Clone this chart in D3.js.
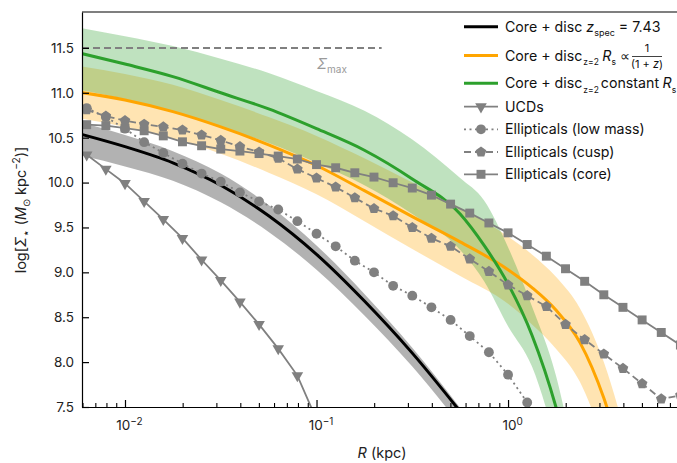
<!DOCTYPE html>
<html><head><meta charset="utf-8">
<script src="https://cdn.jsdelivr.net/npm/d3@7"></script>
<style>
body{margin:0;background:#fff}
svg{display:block;font-family:Inter,"Noto Sans",sans-serif}
text{white-space:pre}
</style>
</head><body>
<svg id="c" width="677" height="463"></svg>
<script>
// ---------- data (log10 R in kpc, log Sigma) ----------
const blackLogR = [-2.25,-2.0,-1.75,-1.5,-1.25,-1.0,-0.75,-0.5,-0.25];
const blackMid  = [10.55,10.40,10.22,9.97,9.63,9.20,8.68,8.10,7.45];
const blackHi   = [10.68,10.53,10.35,10.10,9.75,9.30,8.76,8.16,7.49];
const blackLo   = [10.31,10.18,10.02,9.78,9.45,9.03,8.52,7.95,7.30];

const orangeLogR = [-2.25,-2.0,-1.75,-1.5,-1.25,-1.0,-0.75,-0.5,-0.25,0.0,0.125,0.25,0.375,0.5,0.625];
const orangeMid  = [11.01,10.92,10.79,10.62,10.42,10.19,9.91,9.62,9.34,9.03,8.83,8.58,8.22,7.60,6.70];
const orangeHi   = [11.30,11.21,11.09,10.92,10.73,10.52,10.27,10.00,9.72,9.40,9.20,8.95,8.60,8.00,7.10];
const orangeLo   = [10.72,10.62,10.49,10.32,10.11,9.87,9.57,9.26,8.96,8.65,8.42,8.15,7.78,7.10,6.20];

const greenLogR = [-2.25,-2.0,-1.75,-1.5,-1.25,-1.0,-0.75,-0.5,-0.25,-0.125,0.0,0.125,0.25,0.375];
const greenMid  = [11.45,11.32,11.18,11.00,10.82,10.60,10.36,10.04,9.65,9.30,8.87,8.30,7.50,6.40];
const greenHi   = [11.73,11.63,11.52,11.38,11.22,11.02,10.80,10.48,10.05,9.80,9.28,8.62,7.85,6.60];
const greenLo   = [11.04,10.93,10.79,10.62,10.44,10.22,9.97,9.65,9.25,8.90,8.40,7.95,7.10,6.00];

const ucdLogR = [-2.2,-2.1,-2.0,-1.9,-1.8,-1.7,-1.6,-1.5,-1.4,-1.3,-1.2,-1.1,-1.0];
const ucdVals = [10.31,10.15,9.99,9.79,9.59,9.38,9.14,8.91,8.67,8.42,8.15,7.85,7.36];

const lowLogR = [-2.2,-2.1,-2.0,-1.9,-1.8,-1.7,-1.6,-1.5,-1.4,-1.3,-1.2,-1.1,-1.0,-0.9,-0.8,-0.7,-0.6,-0.5,-0.4,-0.3,-0.2,-0.1,0.0,0.1,0.2];
const lowVals = [10.83,10.73,10.60,10.45,10.33,10.21,10.10,10.01,9.89,9.79,9.70,9.57,9.43,9.29,9.13,9.00,8.85,8.74,8.61,8.47,8.29,8.11,7.86,7.55,7.10];

const ellLogR = [-2.2,-2.1,-2.0,-1.9,-1.8,-1.7,-1.6,-1.5,-1.4,-1.3,-1.2,-1.1,-1.0,-0.9,-0.8,-0.7,-0.6,-0.5,-0.4,-0.3,-0.2,-0.1,0.0,0.1,0.2,0.3,0.4,0.5,0.6,0.7,0.8,0.9];
const cuspVals = [10.81,10.74,10.69,10.65,10.62,10.585,10.53,10.47,10.40,10.34,10.27,10.15,10.05,9.95,9.83,9.71,9.63,9.50,9.38,9.29,9.15,9.01,8.86,8.74,8.62,8.42,8.25,8.09,7.93,7.76,7.59,7.63];
const coreVals = [10.645,10.635,10.607,10.577,10.52,10.454,10.41,10.373,10.351,10.323,10.295,10.262,10.20,10.165,10.109,10.061,9.998,9.939,9.86,9.76,9.66,9.55,9.44,9.31,9.18,9.04,8.90,8.75,8.61,8.47,8.33,8.19];

const sigmaMax = 11.5;
const sigmaMaxLogR = [-2.2245, -0.66];

const yTicks = [7.5,8.0,8.5,9.0,9.5,10.0,10.5,11.0,11.5];
const xMajor = [0.01, 0.1, 1];
const xMajorExp = ["\u22122","\u22121","0"];

// ---------- setup ----------
const svg = d3.select("#c");
const L = 82, T = 12, B = 407, Rr = 690;
const x = d3.scaleLog().domain([Math.pow(10,-2.2245), Math.pow(10,0.95)]).range([L, Rr]);
const y = d3.scaleLinear().domain([7.5, 11.9]).range([B, T]);
const X = lr => x(Math.pow(10, lr));

const GRAY = "#808080";
const ORANGE = "#FFA500";
const GREEN = "#2CA02C";

svg.append("defs").append("clipPath").attr("id","clip")
  .append("rect").attr("x",L).attr("y",T).attr("width",Rr-L).attr("height",B-T);
const plot = svg.append("g").attr("clip-path","url(#clip)");

function zipBand(lr, lo, hi){ return lr.map((d,i)=>({lr:d, lo:lo[i], hi:hi[i]})); }
function zip(lr, v){ return lr.map((d,i)=>({lr:d, v:v[i]})); }

const area = d3.area().x(d=>X(d.lr)).y0(d=>y(d.lo)).y1(d=>y(d.hi)).curve(d3.curveMonotoneX);
const smooth = d3.line().x(d=>X(d.lr)).y(d=>y(d.v)).curve(d3.curveMonotoneX);
const straight = d3.line().x(d=>X(d.lr)).y(d=>y(d.v));

// bands
plot.append("path").attr("d", area(zipBand(blackLogR, blackLo, blackHi))).attr("fill","#000").attr("fill-opacity",0.3);
plot.append("path").attr("d", area(zipBand(orangeLogR, orangeLo, orangeHi))).attr("fill",ORANGE).attr("fill-opacity",0.3);
plot.append("path").attr("d", area(zipBand(greenLogR, greenLo, greenHi))).attr("fill",GREEN).attr("fill-opacity",0.3);

// model lines
plot.append("path").attr("d", smooth(zip(blackLogR, blackMid))).attr("fill","none").attr("stroke","#000").attr("stroke-width",3);
plot.append("path").attr("d", smooth(zip(orangeLogR, orangeMid))).attr("fill","none").attr("stroke",ORANGE).attr("stroke-width",3);
plot.append("path").attr("d", smooth(zip(greenLogR, greenMid))).attr("fill","none").attr("stroke",GREEN).attr("stroke-width",3);

// Sigma max
plot.append("line").attr("x1",X(sigmaMaxLogR[0])).attr("x2",X(sigmaMaxLogR[1]))
  .attr("y1",y(sigmaMax)).attr("y2",y(sigmaMax))
  .attr("stroke",GRAY).attr("stroke-width",2).attr("stroke-dasharray","7,4");

// symbols
const pentagon = {
  draw(ctx, size){
    const r = Math.sqrt(size/2.3776);
    for(let i=0;i<5;i++){
      const a = -Math.PI/2 + i*2*Math.PI/5;
      const px = r*Math.cos(a), py = r*Math.sin(a);
      if(i===0) ctx.moveTo(px,py); else ctx.lineTo(px,py);
    }
    ctx.closePath();
  }
};
const SYM = {
  ucd: [d3.symbolTriangle, 58, true],
  low: [d3.symbolCircle, 76, false],
  cusp: [pentagon, 74, false],
  core: [d3.symbolSquare, 80, false]
};
function series(lr, vals, dash, sdef){
  const [symType, symSize, rotate] = sdef;
  const g = plot.append("g");
  g.append("path").attr("d", straight(zip(lr, vals))).attr("fill","none")
    .attr("stroke",GRAY).attr("stroke-width",1.8).attr("stroke-dasharray",dash);
  const sym = d3.symbol().type(symType).size(symSize);
  g.selectAll("path.m").data(zip(lr, vals)).join("path").attr("class","m")
    .attr("d", sym)
    .attr("transform", d=>`translate(${X(d.lr)},${y(d.v)})${rotate?" rotate(180)":""}`)
    .attr("fill",GRAY);
}
series(ucdLogR, ucdVals, null, SYM.ucd);
series(lowLogR, lowVals, "2,3.5", SYM.low);
series(ellLogR, cuspVals, "7,4", SYM.cusp);
series(ellLogR, coreVals, null, SYM.core);

// ---------- axes ----------
const yAxis = d3.axisLeft(y).tickValues(yTicks).tickSize(-7).tickSizeOuter(0).tickPadding(8)
  .tickFormat(d3.format(".1f"));
const gy = svg.append("g").attr("transform",`translate(${L},0)`).call(yAxis);
gy.select(".domain").attr("stroke","#000").attr("stroke-width",1.2);
gy.selectAll(".tick line").attr("stroke","#000").attr("stroke-width",1.2);
gy.selectAll(".tick text").attr("font-size",13.5).attr("fill","#222").attr("font-family","Inter");

const minor = [];
[0.001,0.01,0.1,1].forEach(dec=>{ for(let k=2;k<=9;k++) minor.push(dec*k); });
const minorIn = minor.filter(v=>v>=x.domain()[0] && v<=x.domain()[1]);
const xMinorAxis = d3.axisBottom(x).tickValues(minorIn).tickSize(-4).tickSizeOuter(0).tickFormat("");
const gxm = svg.append("g").attr("transform",`translate(0,${B})`).call(xMinorAxis);
gxm.select(".domain").remove();
gxm.selectAll(".tick line").attr("stroke","#000").attr("stroke-width",1.1);

const xAxis = d3.axisBottom(x).tickValues(xMajor).tickSize(-7).tickSizeOuter(0).tickPadding(13)
  .tickFormat(()=> "");
const gx = svg.append("g").attr("transform",`translate(0,${B})`).call(xAxis);
gx.select(".domain").attr("stroke","#000").attr("stroke-width",1.2);
gx.selectAll(".tick line").attr("stroke","#000").attr("stroke-width",1.2);
gx.selectAll(".tick text").each(function(d,i){
  const t = d3.select(this).attr("font-size",13.5).attr("fill","#222").attr("y",23).attr("dy",null)
    .attr("font-family","Inter").attr("dx", 4);
  t.append("tspan").text("10");
  t.append("tspan").attr("font-size",10).attr("dy",-5.5).text(xMajorExp[i]);
});

// top spine
svg.append("line").attr("x1",L).attr("x2",Rr).attr("y1",T).attr("y2",T).attr("stroke","#000").attr("stroke-width",1.2);

// ---------- rich text helper ----------
function rich(sel, segs, base){
  let shift = 0;
  segs.forEach(s=>{
    const size = s.sub||s.sup ? (s.size||base*0.7) : (s.size||base);
    const target = s.sub ? base*0.3 : (s.sup ? -base*0.4 : 0);
    const ts = sel.append("tspan").text(s.t).attr("font-size",size);
    if(target!==shift) ts.attr("dy", target-shift);
    if(s.dx) ts.attr("dx", s.dx);
    if(s.it) ts.attr("font-style","italic");
    if(s.ff) ts.attr("font-family", s.ff);
    shift = target;
  });
  return sel;
}

// axis labels
const yl = svg.append("text").attr("transform","translate(26,210) rotate(-90)")
  .attr("text-anchor","middle").attr("fill","#222");
rich(yl, [{t:"log["},{t:"\u03A3",it:true},{t:"\u22C6",sub:true,size:12,ff:"DejaVu Sans"},{t:" ("},{t:"M",it:true},{t:"\u2299",sub:true},{t:" kpc"},{t:"\u22122",sup:true},{t:")]"}], 14.5);

const xl = svg.append("text").attr("x",382).attr("y",458).attr("text-anchor","middle").attr("fill","#222");
rich(xl, [{t:"R",it:true},{t:" (kpc)"}], 14.5);

// Sigma max label
const sm = svg.append("text").attr("x",317).attr("y",69).attr("fill","#9a9a9a");
rich(sm, [{t:"\u03A3",it:true},{t:"max",sub:true,size:10}], 14.5);

// ---------- legend ----------
const lg = svg.append("g");
const lx0 = 464, lx1 = 498, tx = 505;
const rows = [26.7, 55.5, 83.3, 106.7, 129.3, 152, 174.3];
const legLine = (yy, color, w, dash) => lg.append("line").attr("x1",lx0).attr("x2",lx1).attr("y1",yy).attr("y2",yy)
  .attr("stroke",color).attr("stroke-width",w).attr("stroke-dasharray",dash||null);
legLine(rows[0], "#000", 3);
legLine(rows[1], ORANGE, 3);
legLine(rows[2], GREEN, 3);
legLine(rows[3], GRAY, 1.8);
legLine(rows[4], GRAY, 1.8, "2,3.5");
legLine(rows[5], GRAY, 1.8, "7,4");
legLine(rows[6], GRAY, 1.8);
[[rows[3], SYM.ucd],[rows[4], SYM.low],[rows[5], SYM.cusp],[rows[6], SYM.core]].forEach(([yy,sd])=>{
  lg.append("path").attr("d", d3.symbol().type(sd[0]).size(sd[1])).attr("fill",GRAY)
    .attr("transform",`translate(${(lx0+lx1)/2},${yy})${sd[2]?" rotate(180)":""}`);
});
const FS = 14.2;
const lt = (yy) => lg.append("text").attr("x",tx).attr("y",yy+5).attr("fill","#111");
rich(lt(rows[0]), [{t:"Core + disc "},{t:"z",it:true},{t:"spec",sub:true,size:9},{t:" = 7.43"}], FS);
rich(lt(rows[1]), [{t:"Core + disc"},{t:"z=2",sub:true,size:8.5,dx:1},{t:"R",it:true,dx:3.5},{t:"s",sub:true,size:8.5},{t:"\u221D",dx:4}], FS);
// fraction
const fx = 647;
lg.append("text").attr("x",fx).attr("y",52).attr("text-anchor","middle").attr("font-size",11).attr("fill","#111").text("1");
lg.append("line").attr("x1",632).attr("x2",662).attr("y1",56.5).attr("y2",56.5).attr("stroke","#111").attr("stroke-width",0.8);
const den = lg.append("text").attr("x",fx).attr("y",68).attr("text-anchor","middle").attr("fill","#111");
rich(den, [{t:"(1 + "},{t:"z",it:true},{t:")"}], 11);
rich(lt(rows[2]), [{t:"Core + disc"},{t:"z=2",sub:true,size:8.5,dx:1},{t:"constant",dx:2},{t:"R",it:true,dx:3.5},{t:"s",sub:true,size:8.5}], FS);
lt(rows[3]).attr("font-size",FS).text("UCDs");
lt(rows[4]).attr("font-size",FS).text("Ellipticals (low mass)");
lt(rows[5]).attr("font-size",FS).text("Ellipticals (cusp)");
lt(rows[6]).attr("font-size",FS).text("Ellipticals (core)");
</script>
</body></html>
